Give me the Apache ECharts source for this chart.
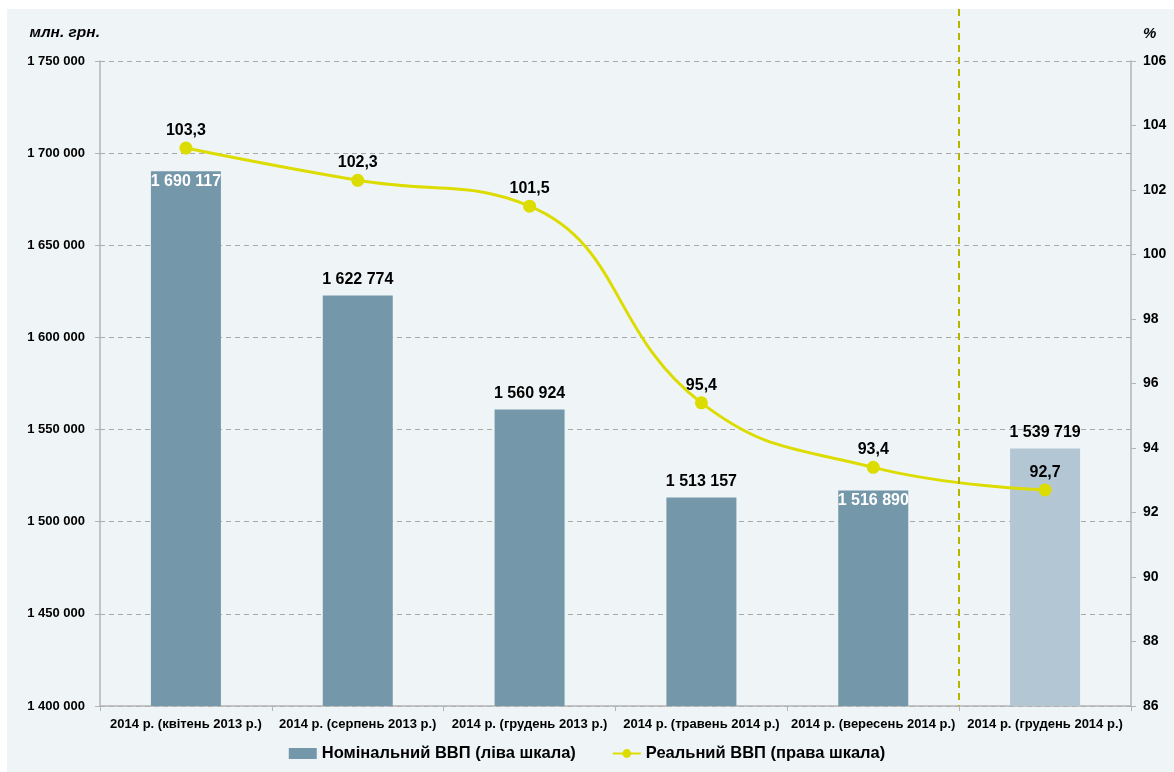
<!DOCTYPE html>
<html>
<head>
<meta charset="utf-8">
<script src="https://cdn.jsdelivr.net/npm/echarts@6/dist/echarts.min.js"></script>
<style>
  html, body { margin: 0; padding: 0; background: #ffffff; }
  #wrap { position: absolute; left: 7px; top: 9px; width: 1167px; height: 763px; background: #eff5f6; }
  #main { position: absolute; left: 0; top: 0; width: 1174px; height: 772px; }
</style>
</head>
<body>
<div id="wrap"></div>
<div id="main"></div>
<script>
    var categories = ['2014 р. (квітень 2013 р.)', '2014 р. (серпень 2013 р.)', '2014 р. (грудень 2013 р.)',
        '2014 р. (травень 2014 р.)', '2014 р. (вересень 2014 р.)', '2014 р. (грудень 2014 р.)'];
    var nominal = [1690117, 1622774, 1560924, 1513157, 1516890, 1539719];
    var real = [103.3, 102.3, 101.5, 95.4, 93.4, 92.7];
    // перший і п'ятий підпис всередині стовпця
    var labelInside = [true, false, false, false, true, false];
    var forecastFrom = 5;

    var font = '"Liberation Sans Narrow", "Arial Narrow", "Liberation Sans", sans-serif';
    var barColor = '#7597aa', barColorLight = '#b3c6d3', lineColor = '#dcdc00';

    function fmt(v) {
        return String(v).replace(/\B(?=(\d{3})+(?!\d))/g, ' ');
    }

    var barData = nominal.map(function (v, i) {
        return {
            value: v,
            itemStyle: { color: i >= forecastFrom ? barColorLight : barColor },
            label: labelInside[i]
                ? { position: 'insideTop', color: '#ffffff', distance: 2 }
                : { position: 'top', color: '#000000', distance: 8 }
        };
    });

    var chart = echarts.init(document.getElementById('main'));
    chart.setOption({
        backgroundColor: 'transparent',
        textStyle: { fontFamily: font },
        legend: {
            bottom: 5,
            left: 'center',
            itemGap: 36,
            itemWidth: 28,
            itemHeight: 11,
            textStyle: { fontFamily: font, fontSize: 16.5, fontWeight: 'bold', color: '#000' },
            data: [
                { name: 'Номінальний ВВП (ліва шкала)', icon: 'rect' },
                { name: 'Реальний ВВП (права шкала)' }
            ]
        },
        grid: { left: 100, right: 43, top: 61, bottom: 66 },
        xAxis: [{
            type: 'category',
            data: categories,
            axisLine: { lineStyle: { color: '#b4b4b4', width: 1.5 } },
            axisTick: { show: true, length: 5, lineStyle: { color: '#b4b4b4' } },
            axisLabel: { color: '#000', fontFamily: font, fontSize: 13, fontWeight: 'bold', margin: 12, interval: 0 }
        }, {
            type: 'value',
            min: 0,
            max: categories.length,
            show: false
        }],
        yAxis: [{
            type: 'value',
            min: 1400000,
            max: 1750000,
            interval: 50000,
            name: 'млн. грн.',
            nameLocation: 'end',
            nameGap: 20,
            nameTextStyle: { fontFamily: font, fontSize: 15.5, fontWeight: 'bold', fontStyle: 'italic', color: '#000', align: 'right' },
            axisLine: { show: true, lineStyle: { color: '#b4b4b4', width: 1.5 } },
            axisTick: { show: true, length: 5, lineStyle: { color: '#b4b4b4' } },
            axisLabel: { color: '#000', fontFamily: font, fontSize: 13, fontWeight: 'bold', margin: 15, formatter: fmt },
            splitLine: { show: true, lineStyle: { color: '#aaaaaa', type: [5, 4] } }
        }, {
            type: 'value',
            min: 86,
            max: 106,
            interval: 2,
            name: '%',
            nameLocation: 'end',
            nameGap: 20,
            nameTextStyle: { fontFamily: font, fontSize: 15, fontWeight: 'bold', fontStyle: 'italic', color: '#000', align: 'left', padding: [0, 0, 0, 12] },
            axisLine: { show: true, lineStyle: { color: '#b4b4b4', width: 1.5 } },
            axisTick: { show: true, length: 5, lineStyle: { color: '#b4b4b4' } },
            axisLabel: { color: '#000', fontFamily: font, fontSize: 14, fontWeight: 'bold', margin: 12 },
            splitLine: { show: false }
        }],
        series: [{
            name: 'Номінальний ВВП (ліва шкала)',
            type: 'bar',
            barWidth: 70,
            itemStyle: { color: barColor },
            label: {
                show: true,
                fontFamily: font,
                fontSize: 16,
                fontWeight: 'bold',
                formatter: function (p) { return fmt(p.value); }
            },
            data: barData,
            z: 2
        }, {
            name: 'Реальний ВВП (права шкала)',
            type: 'line',
            yAxisIndex: 1,
            smooth: 0.45,
            symbol: 'circle',
            symbolSize: 13,
            itemStyle: { color: lineColor },
            lineStyle: { color: lineColor, width: 3 },
            label: {
                show: true,
                position: 'top',
                distance: 3,
                color: '#000',
                fontFamily: font,
                fontSize: 16,
                fontWeight: 'bold',
                formatter: function (p) { return String(p.value).replace('.', ','); }
            },
            data: real,
            z: 4
        }, {
            name: 'forecast',
            type: 'line',
            xAxisIndex: 1,
            data: [],
            markLine: {
                silent: true,
                symbol: 'none',
                label: { show: false },
                lineStyle: { color: '#b5b500', type: [7, 5], width: 2 },
                data: [[{ xAxis: forecastFrom, y: 9 }, { xAxis: forecastFrom, yAxis: 1400000 }]]
            },
            z: 1
        }]
    });
</script>
</body>
</html>
